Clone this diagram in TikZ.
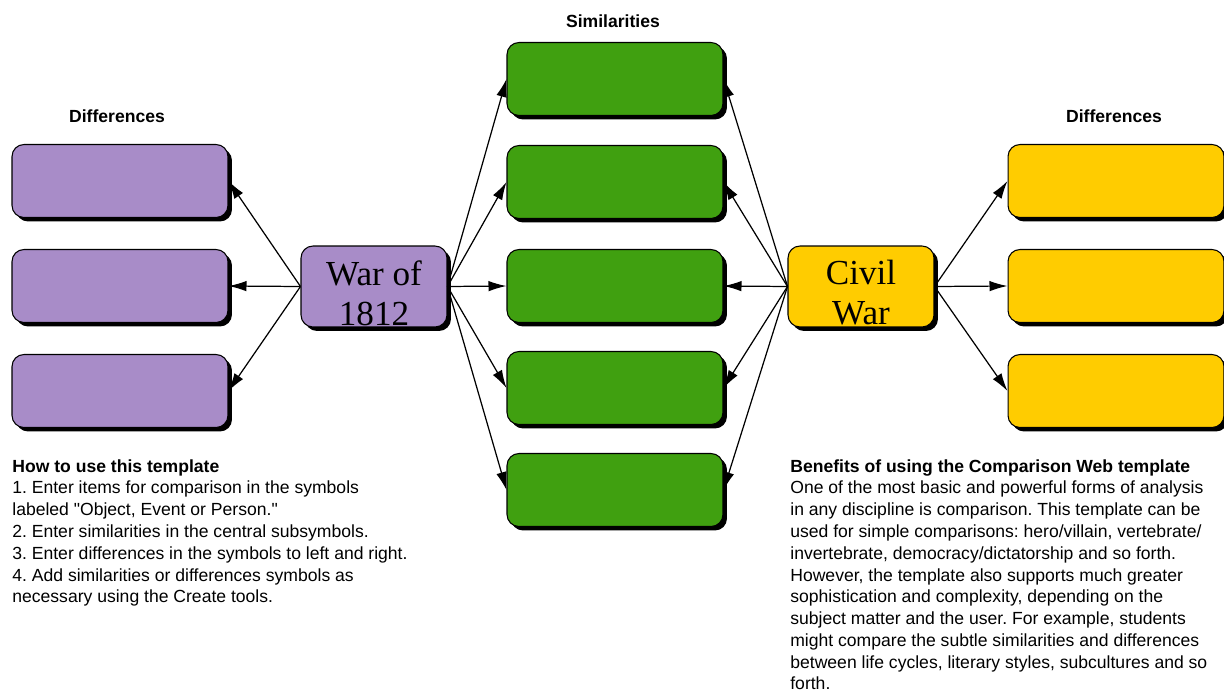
\documentclass[tikz,border=0pt]{standalone}
\usepackage{fontspec}
\setmainfont{Liberation Serif}
\setsansfont{Liberation Sans}[Ligatures=TeXOff]
\usetikzlibrary{arrows.meta,shadows}
\definecolor{lilac}{RGB}{168,140,200}
\definecolor{leaf}{RGB}{64,160,16}
\definecolor{gold}{RGB}{255,204,0}
\frenchspacing
\tikzset{
  cell/.style={draw=black, line width=0.6pt, rounded corners=0.24cm, minimum width=4.32cm, minimum height=1.46cm,
    drop shadow={shadow xshift=0.08cm, shadow yshift=-0.08cm, fill=black, opacity=1}},
  hub/.style={cell, minimum width=2.92cm, minimum height=1.62cm},
  hubtext/.style={yshift=-0.13cm, align=center, inner sep=0pt, font=\fontsize{20}{22.8}\selectfont},
  link/.style={line width=0.7pt, -{Latex[length=0.36cm,width=0.21cm]}},
  caption/.style={font=\sffamily\bfseries\fontsize{10}{12}\selectfont},
  notes/.style={font=\sffamily\fontsize{10}{12.4}\selectfont, align=left, anchor=north west, inner sep=0pt}
}

\begin{document}
\begin{tikzpicture}[x=0.02cm, y=-0.02cm]
		%%%%% START %%%%%
		\useasboundingbox (0, 0) rectangle (1224, 696);
		
		% headings
		\node[caption] (capL) at (117, 116) {Differences};
		\node[caption] (capM) at (613, 21) {Similarities};
		\node[caption] (capR) at (1114, 116) {Differences};
		
		% left differences
		\node[cell, fill=lilac] (dl1) at (120, 181) {};
		\node[cell, fill=lilac] (dl2) at (120, 286) {};
		\node[cell, fill=lilac] (dl3) at (120, 391) {};
		
		% similarities
		\node[cell, fill=leaf] (sm1) at (615, 79) {};
		\node[cell, fill=leaf] (sm2) at (615, 182) {};
		\node[cell, fill=leaf] (sm3) at (615, 286) {};
		\node[cell, fill=leaf] (sm4) at (615, 388) {};
		\node[cell, fill=leaf] (sm5) at (615, 490) {};
		
		% right differences
		\node[cell, fill=gold] (dr1) at (1116, 181) {};
		\node[cell, fill=gold] (dr2) at (1116, 286) {};
		\node[cell, fill=gold] (dr3) at (1116, 391) {};
		
		% the two items
		\node[hub, fill=lilac, label={[hubtext]center:War of\\1812}] (war) at (374, 286.5) {};
		\node[hub, fill=gold, label={[hubtext]center:Civil\\War}] (civil) at (861, 286.5) {};
		
		% connectors
		\draw[link] (war.west) -- (dl1.east);
		\draw[link] (war.west) -- (dl2.east);
		\draw[link] (war.west) -- (dl3.east);
		
		\draw[link] (war.east) -- (sm1.west);
		\draw[link] (war.east) -- (sm2.west);
		\draw[link] (war.east) -- (sm3.west);
		\draw[link] (war.east) -- (sm4.west);
		\draw[link] (war.east) -- (sm5.west);
		
		\draw[link] (civil.west) -- (sm1.east);
		\draw[link] (civil.west) -- (sm2.east);
		\draw[link] (civil.west) -- (sm3.east);
		\draw[link] (civil.west) -- (sm4.east);
		\draw[link] (civil.west) -- (sm5.east);
		
		\draw[link] (civil.east) -- (dr1.west);
		\draw[link] (civil.east) -- (dr2.west);
		\draw[link] (civil.east) -- (dr3.west);
		
		% notes
		\node[notes] (howto) at (12, 459) {\textbf{How to use this template}\\
			1. Enter items for comparison in the symbols\\
			labeled "Object, Event or Person."\\
			2. Enter similarities in the central subsymbols.\\
			3. Enter differences in the symbols to left and right.\\
			4. Add similarities or differences symbols as\\
			necessary using the Create tools.};
		
		\node[notes] (benefit) at (790, 459) {\textbf{Benefits of using the Comparison Web template}\\
			One of the most basic and powerful forms of analysis\\
			in any discipline is comparison. This template can be\\
			used for simple comparisons: hero/villain, vertebrate/\\
			invertebrate, democracy/dictatorship and so forth.\\
			However, the template also supports much greater\\
			sophistication and complexity, depending on the\\
			subject matter and the user. For example, students\\
			might compare the subtle similarities and differences\\
			between life cycles, literary styles, subcultures and so\\
			forth.};
		
		%%%%% END %%%%%
	\end{tikzpicture}
\end{document}
